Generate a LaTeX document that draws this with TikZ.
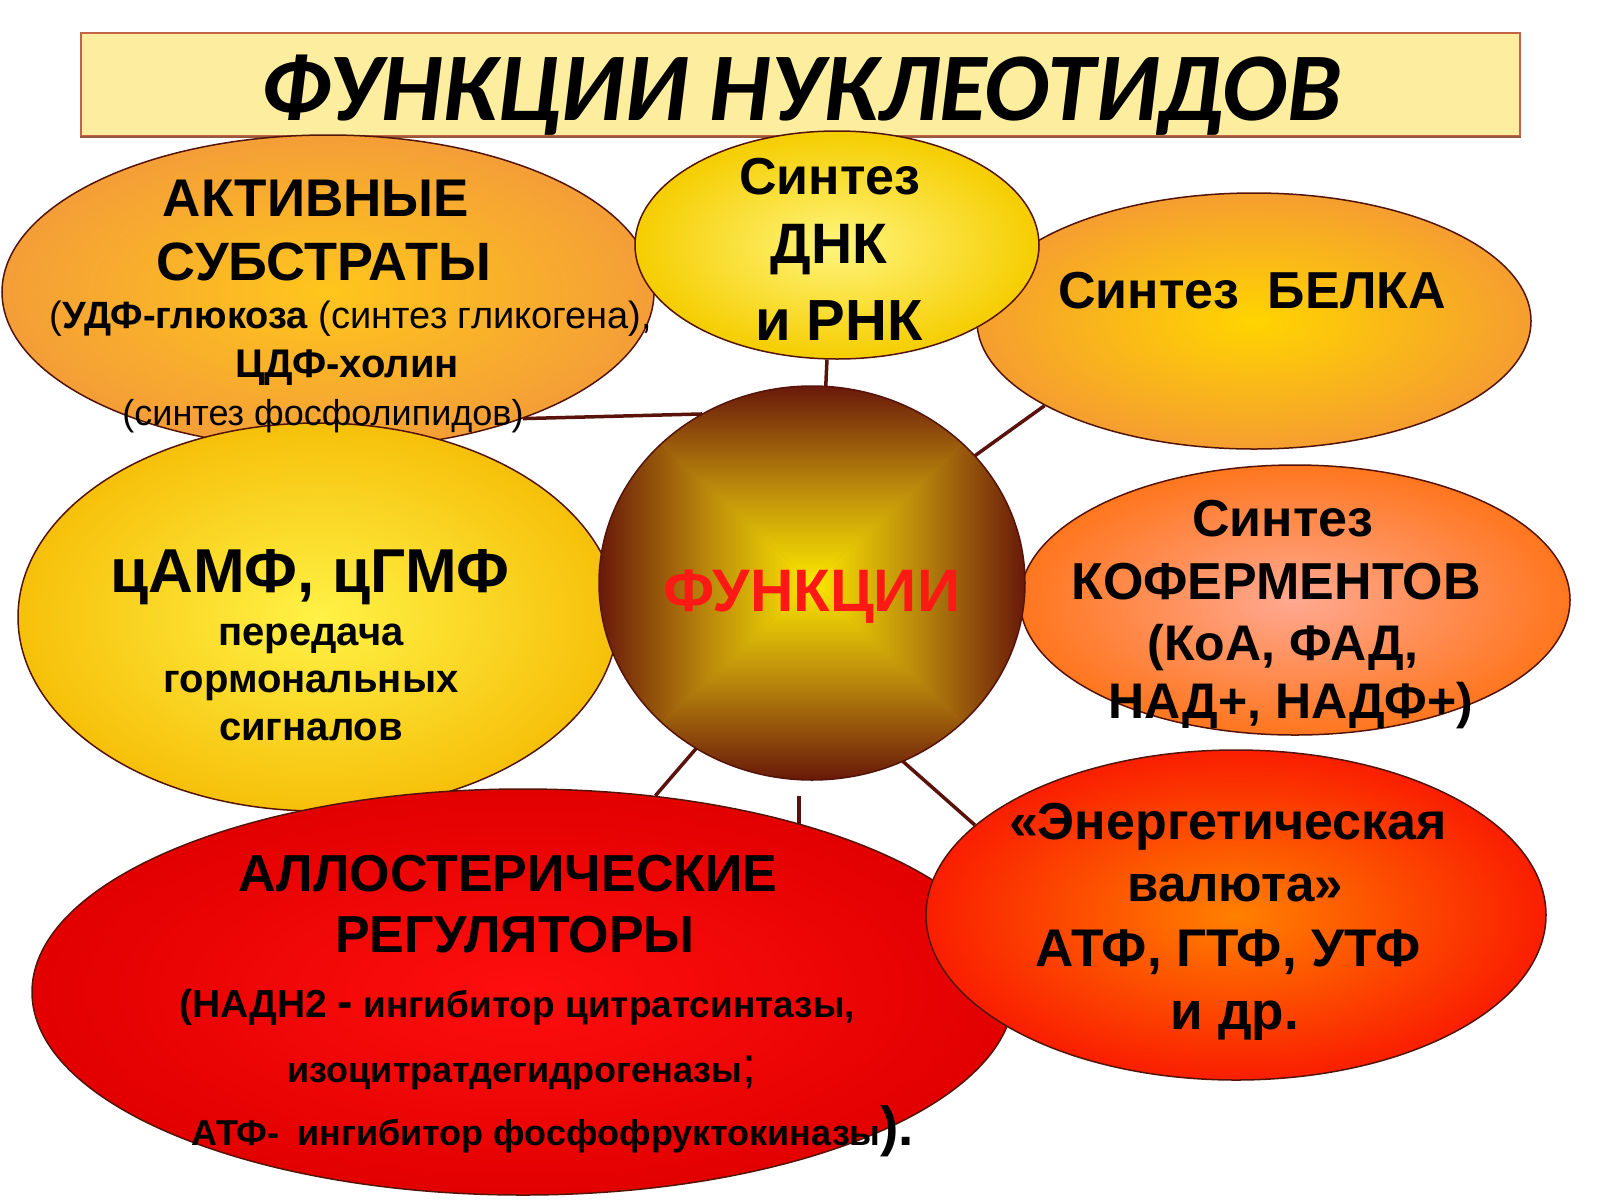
\documentclass[tikz,border=0pt]{standalone}
\usepackage{fontspec}
\setmainfont{Liberation Sans}
\newfontfamily\titlefont{Carlito}
\usetikzlibrary{shapes.geometric}
\newcommand{\fsz}[1]{\fontsize{#1}{#1}\selectfont}
\definecolor{edgecol}{RGB}{85,20,10}
\definecolor{linecol}{RGB}{90,18,12}
\definecolor{titlefill}{RGB}{252,238,158}
\definecolor{titleedge}{RGB}{195,100,70}
\definecolor{titleshadow}{RGB}{150,90,60}
\definecolor{actIn}{RGB}{255,198,28}
\definecolor{actOut}{RGB}{244,158,55}
\definecolor{dnaIn}{RGB}{255,245,125}
\definecolor{dnaOut}{RGB}{245,205,0}
\definecolor{belIn}{RGB}{255,212,0}
\definecolor{belOut}{RGB}{245,158,48}
\definecolor{campIn}{RGB}{255,242,70}
\definecolor{campOut}{RGB}{246,192,10}
\definecolor{kofIn}{RGB}{255,168,145}
\definecolor{kofOut}{RGB}{255,118,30}
\definecolor{enIn}{RGB}{255,128,0}
\definecolor{enOut}{RGB}{250,30,0}
\definecolor{alIn}{RGB}{255,14,14}
\definecolor{alOut}{RGB}{226,0,0}
\definecolor{fnEdge}{RGB}{105,25,10}
\definecolor{fnMid}{RGB}{185,135,12}
\definecolor{fnCen}{RGB}{252,232,0}
\definecolor{fnRed}{RGB}{255,25,20}
\pgfdeclareverticalshading{fnV}{100bp}{color(0bp)=(fnCen); color(25bp)=(fnCen); color(50bp)=(fnMid); color(75bp)=(fnEdge); color(100bp)=(fnEdge)}
\pgfdeclarelayer{back}
\pgfdeclarelayer{bg}
\pgfsetlayers{back,bg,main}
\tikzset{
  blob/.style={ellipse, draw=edgecol, line width=1.5pt, inner sep=0pt},
  conn/.style={draw=linecol, line width=3.5pt},
  tx/.style={anchor=base, inner sep=0pt, text=black},
}
\begin{document}
\begin{tikzpicture}[x=1pt,y=-1pt]
\useasboundingbox (0,0) rectangle (1600,1200);
\begin{pgfonlayer}{back}
\fill[white] (0,0) rectangle (1600,1200);
\end{pgfonlayer}
% title
\node[rectangle, fill=titlefill, draw=titleedge, line width=2pt, minimum width=1439, minimum height=103, inner sep=0pt] (tbox) at (800.5,84.5) {};
\draw[titleshadow, line width=2.5pt] (tbox.south west) -- (tbox.south east);
\node[tx, font={\titlefont\fsz{97}\bfseries\itshape}] (title) at (801,120) {ФУНКЦИИ НУКЛЕОТИДОВ};
% ellipses
\node[blob, inner color=actIn, outer color=actOut, minimum width=652, minimum height=314] (act) at (328,292) {};
\node[blob, inner color=belIn, outer color=belOut, minimum width=554, minimum height=256] (bel) at (1254,321) {};
\node[blob, inner color=dnaIn, outer color=dnaOut, minimum width=404, minimum height=228] (dna) at (837,245) {};
\node[blob, inner color=campIn, outer color=campOut, minimum width=600, minimum height=388] (camp) at (318,617) {};
\node[blob, inner color=kofIn, outer color=kofOut, minimum width=550, minimum height=270] (kof) at (1295,600) {};
\node[blob, inner color=alIn, outer color=alOut, minimum width=982, minimum height=406] (allo) at (523,992) {};
\node[blob, inner color=enIn, outer color=enOut, minimum width=620, minimum height=330] (en) at (1236,915) {};
\node[ellipse, inner sep=0pt, minimum width=426, minimum height=394, fill=fnMid,
  path picture={
    \coordinate (pc) at (path picture bounding box.center);
    \coordinate (pnw) at (path picture bounding box.north west);
    \coordinate (pne) at (path picture bounding box.north east);
    \coordinate (psw) at (path picture bounding box.south west);
    \coordinate (pse) at (path picture bounding box.south east);
    \shade[shading=fnV] (pc) -- (pnw) -- (pne) -- cycle;
    \shade[shading=fnV, shading angle=180] (pc) -- (psw) -- (pse) -- cycle;
    \shade[shading=fnV, shading angle=90] (pc) -- (pnw) -- (psw) -- cycle;
    \shade[shading=fnV, shading angle=-90] (pc) -- (pne) -- (pse) -- cycle;
  }] (fn) at (812,583) {};
\draw[edgecol, line width=1.5pt] (fn.center) ellipse [x radius=213, y radius=197];
% connectors
\coordinate (vtop) at (799,796);
\begin{pgfonlayer}{bg}
\draw[conn] (act.-33.6) -- (fn.123.5);
\draw[conn] (dna.-95.5) -- (fn.86);
\draw[conn] (bel.-158.1) -- (fn.38.8);
\draw[conn] (fn.235.9) -- (allo.56.2);
\draw[conn] (vtop) -- (vtop |- allo.31.3);
\draw[conn] (fn.-63.4) -- (en.161.5);
\end{pgfonlayer}
% texts
\node[tx, font={\fsz{53}\bfseries}] (a1) at (316,216) {АКТИВНЫЕ};
\node[tx, font={\fsz{54}\bfseries}] (a2) at (324,280) {СУБСТРАТЫ};
\node[tx, font={\fsz{38}}] (a3) at (351,328) {(\textbf{УДФ-глюкоза} (синтез гликогена),};
\node[tx, font={\fsz{40}\bfseries}] (a4) at (347,377) {ЦДФ-холин};
\node[tx, font={\fsz{36}}] (a5) at (323,425) {(синтез фосфолипидов)};
\node[tx, font={\fsz{52}\bfseries}] (d1) at (830,194) {Синтез};
\node[tx, font={\fsz{57}\bfseries}] (d2) at (829,263) {ДНК};
\node[tx, font={\fsz{58}\bfseries}] (d3) at (839,340) {и РНК};
\node[tx, font={\fsz{52}\bfseries}] (b1) at (1252,308) {Синтез\hspace{0.55em}БЕЛКА};
\node[tx, font={\fsz{62}\bfseries}] (c1) at (310,592) {цАМФ, цГМФ};
\node[tx, font={\fsz{40}\bfseries}] (c2) at (311,645) {передача};
\node[tx, font={\fsz{40}\bfseries}] (c3) at (311,692) {гормональных};
\node[tx, font={\fsz{40}\bfseries}] (c4) at (311,740) {сигналов};
\node[tx, font={\fsz{60}\bfseries}, text=fnRed] (f1) at (812,611) {ФУНКЦИИ};
\node[tx, font={\fsz{52}\bfseries}] (k1) at (1283,536) {Синтез};
\node[tx, font={\fsz{52}\bfseries}] (k2) at (1276,599) {КОФЕРМЕНТОВ};
\node[tx, font={\fsz{50}\bfseries}] (k3) at (1283,660) {(КоА, ФАД,};
\node[tx, font={\fsz{50}\bfseries}] (k4) at (1291,718) {НАД+, НАДФ+)};
\node[tx, font={\fsz{52}\bfseries}] (e1) at (1228,839) {«Энергетическая};
\node[tx, font={\fsz{51}\bfseries}] (e2) at (1235,901) {валюта»};
\node[tx, font={\fsz{53}\bfseries}] (e3) at (1228,966) {АТФ, ГТФ, УТФ};
\node[tx, font={\fsz{53}\bfseries}] (e4) at (1235,1029) {и др.};
\node[tx, font={\fsz{52}\bfseries}] (l1) at (508,891) {АЛЛОСТЕРИЧЕСКИЕ};
\node[tx, font={\fsz{52}\bfseries}] (l2) at (515,952) {РЕГУЛЯТОРЫ};
\node[tx, font={\fsz{37}\bfseries}] (l3) at (517,1017) {{\fsz{39}(НАДН2} {\fsz{46}-} ингибитор цитратсинтазы,};
\node[tx, font={\fsz{36}\bfseries}] (l4) at (522,1082) {изоцитратдегидрогеназы{\fsz{50}\mdseries;}};
\node[tx, font={\fsz{36}\bfseries}] (l5) at (553,1145) {АТФ-\hspace{0.5em}ингибитор фосфофруктокиназы{\fsz{55}).}};
\end{tikzpicture}
\end{document}
